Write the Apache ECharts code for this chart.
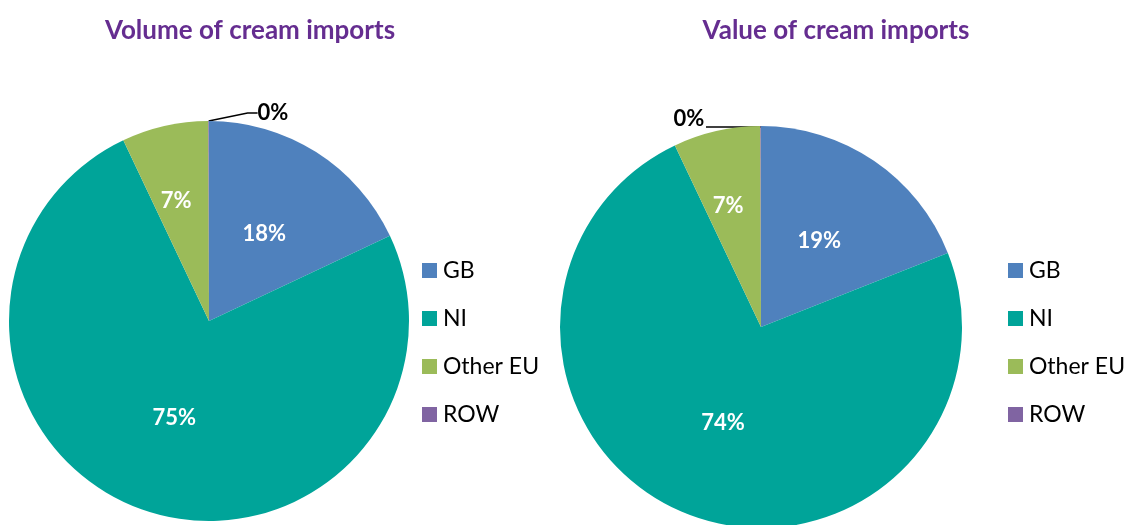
<!DOCTYPE html>
<html>
<head>
<meta charset="utf-8">
<script src="https://cdn.jsdelivr.net/npm/echarts@6/dist/echarts.min.js"></script>
<style>
  html, body { margin: 0; padding: 0; background: #fff; }
  #chart { width: 1131px; height: 525px; }
</style>
</head>
<body>
<div id="chart"></div>
<script>
// 数据
const categories = ['GB', 'NI', 'Other EU', 'ROW'];
const volumeShares = [18, 75, 7, 0.05];
const valueShares = [19, 74, 7, 0.05];
const colors = ['#4F81BD', '#00A499', '#9BBB59', '#8064A2'];

const FONT = 'Lato, "Open Sans", sans-serif';

function buildData(values) {
    return categories.map(function(name, i) {
        const item = { name: name, value: values[i] };
        if (name === 'ROW') {
            item.label = { position: 'outside', color: '#000' };
            item.labelLine = {
                show: true,
                length: 10,
                length2: 10,
                lineStyle: { color: '#000', width: 1.5 }
            };
        }
        return item;
    });
}

// 0% 标签和其他 EU 标签的位置微调
function layoutFor(side) {
    return function(params) {
        if (params.dataIndex === 2) {
            return { dx: -10, dy: -20 };
        }
        if (params.dataIndex === 3) {
            if (side === 'left') {
                return { x: 273, y: 113, align: 'center', verticalAlign: 'middle' };
            }
            return {
                x: 689, y: 119, align: 'center', verticalAlign: 'middle',
                labelLinePoints: [[762, 127], [734, 127], [706, 127]]
            };
        }
    };
}

function pieSeries(name, values, center, radius, side) {
    return {
        name: name,
        type: 'pie',
        center: center,
        radius: radius,
        startAngle: 90,
        clockwise: true,
        avoidLabelOverlap: false,
        silent: true,
        itemStyle: { borderWidth: 0 },
        label: {
            show: true,
            position: 'inside',
            color: '#fff',
            fontSize: 22,
            fontWeight: 'bold',
            fontFamily: FONT,
            formatter: function(p) {
                return Math.round(p.percent) + '%';
            }
        },
        labelLine: { show: false },
        labelLayout: layoutFor(side),
        data: buildData(values)
    };
}

function legendAt(left) {
    return {
        orient: 'vertical',
        left: left,
        top: 259,
        padding: 0,
        itemWidth: 15,
        itemHeight: 15,
        itemGap: 25,
        icon: 'rect',
        selectedMode: false,
        data: categories,
        textStyle: { fontSize: 23, fontFamily: FONT, color: '#000', padding: [0, 0, 0, 1] }
    };
}

const chart = echarts.init(document.getElementById('chart'));
chart.setOption({
    animation: false,
    color: colors,
    title: [
        {
            text: 'Volume of cream imports',
            left: 245, top: 13, textAlign: 'center',
            textStyle: { color: '#652D90', fontSize: 26, fontWeight: 'bold', fontFamily: FONT }
        },
        {
            text: 'Value of cream imports',
            left: 831, top: 13, textAlign: 'center',
            textStyle: { color: '#652D90', fontSize: 26, fontWeight: 'bold', fontFamily: FONT }
        }
    ],
    legend: [legendAt(422), legendAt(1008)],
    series: [
        pieSeries('Volume', volumeShares, [209, 321], 200, 'left'),
        pieSeries('Value', valueShares, [761, 327], 201, 'right')
    ]
});
</script>
</body>
</html>
